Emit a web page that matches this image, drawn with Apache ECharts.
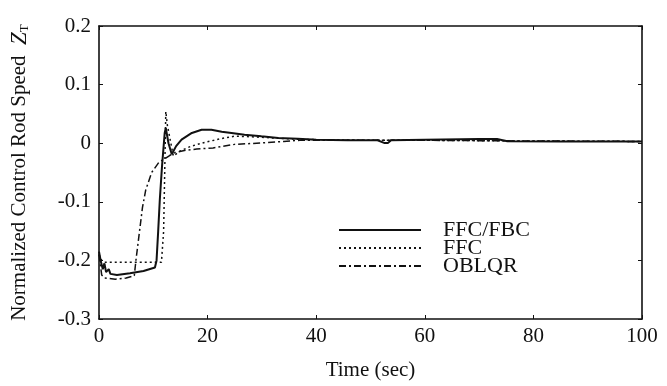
<!DOCTYPE html>
<html>
<head>
<meta charset="utf-8">
<script src="https://cdn.jsdelivr.net/npm/echarts@6/dist/echarts.min.js"></script>
<style>
  html, body { margin: 0; padding: 0; background: #fff; }
  #main { width: 667px; height: 386px; }
</style>
</head>
<body>
<div id="main"></div>
<script>
// values (time in sec, normalized speed)
var xTicks = [0, 20, 40, 60, 80, 100];
var yTicks = [-0.3, -0.2, -0.1, 0, 0.1, 0.2];

var ffcFbcT = [0, 0.3, 0.7, 1, 1.3, 1.8, 2.1, 3.3, 5.7, 8.2, 10.3, 10.6, 10.9, 11.2, 11.6, 12.1, 12.3, 12.8, 13.4, 14.2, 15.2, 17.1, 18.9, 20.7, 22.6, 24.4, 26.8, 29.9, 33, 36.6, 40, 45.8, 51.3, 52.5, 53.2, 53.8, 60, 70, 73.3, 75.2, 85, 100];
var ffcFbcV = [-0.185, -0.2, -0.215, -0.205, -0.22, -0.215, -0.223, -0.225, -0.222, -0.218, -0.212, -0.2, -0.15, -0.096, -0.04, 0.0175, 0.026, 0.0, -0.019, -0.005, 0.006, 0.0175, 0.023, 0.023, 0.0195, 0.0175, 0.0146, 0.0117, 0.009, 0.0078, 0.006, 0.005, 0.005, 0.0005, 0.0005, 0.005, 0.006, 0.007, 0.0073, 0.0032, 0.003, 0.003];

var ffcT = [0, 0.5, 1, 4, 8, 11.5, 11.9, 12.1, 12.3, 12.6, 13.7, 15, 17, 19.5, 22.6, 25, 28, 32, 36, 40, 50, 60, 75, 100];
var ffcV = [-0.19, -0.2, -0.203, -0.203, -0.203, -0.203, -0.15, -0.05, 0.054, 0.03, -0.022, -0.013, -0.005, 0.0015, 0.008, 0.012, 0.011, 0.009, 0.007, 0.006, 0.005, 0.005, 0.004, 0.003];

var oblqrT = [0, 0.5, 1, 3, 5, 6.5, 6.8, 7.2, 8, 8.6, 9.7, 11, 12, 13, 14, 16, 18, 21, 25, 30, 34, 37, 40, 50, 60, 75, 100];
var oblqrV = [-0.19, -0.225, -0.23, -0.232, -0.23, -0.226, -0.2, -0.17, -0.11, -0.08, -0.05, -0.033, -0.027, -0.021, -0.016, -0.012, -0.01, -0.008, -0.002, 0.0005, 0.003, 0.005, 0.005, 0.005, 0.005, 0.004, 0.003];

function pairs(t, v) {
  var out = [];
  for (var i = 0; i < t.length; i++) out.push([t[i], v[i]]);
  return out;
}

var serif = "'Liberation Serif', 'DejaVu Serif', serif";
var ink = "#111";

var chart = echarts.init(document.getElementById("main"));
chart.setOption({
  backgroundColor: "#fff",
  animation: false,
  grid: { left: 96, right: 25, top: 26, bottom: 66 },
  legend: {
    orient: "vertical",
    left: 338,
    top: 219,
    padding: 0,
    itemWidth: 82,
    itemHeight: 12,
    itemGap: -4,
    itemStyle: { opacity: 0 },
    textStyle: { fontFamily: serif, fontSize: 22, color: ink, padding: [0, 0, 0, 17] },
    data: ["FFC/FBC", "FFC", "OBLQR"]
  },
  xAxis: [
    {
      type: "value",
      min: xTicks[0],
      max: xTicks[xTicks.length - 1],
      interval: 20,
      name: "Time (sec)",
      nameLocation: "middle",
      nameGap: 41,
      nameTextStyle: { fontFamily: serif, fontSize: 21, color: ink },
      axisLine: { onZero: false, lineStyle: { color: ink, width: 1.6 } },
      axisTick: { inside: true, length: 4, lineStyle: { color: ink } },
      axisLabel: { fontFamily: serif, fontSize: 21, color: ink, margin: 7 },
      splitLine: { show: false }
    },
    {
      type: "value",
      position: "top",
      min: xTicks[0],
      max: xTicks[xTicks.length - 1],
      interval: 20,
      axisLine: { show: true, onZero: false, lineStyle: { color: ink, width: 1.6 } },
      axisTick: { inside: true, length: 4, lineStyle: { color: ink } },
      axisLabel: { show: false },
      splitLine: { show: false }
    }
  ],
  yAxis: [
    {
      type: "value",
      min: yTicks[0],
      max: yTicks[yTicks.length - 1],
      interval: 0.1,
      name: "Normalized Control Rod Speed  {z|Z}{s|T}",
      nameLocation: "middle",
      nameGap: 68,
      nameTextStyle: {
        fontFamily: serif, fontSize: 21, color: ink,
        rich: {
          z: { fontFamily: serif, fontSize: 23, fontStyle: "italic", color: ink },
          s: { fontFamily: serif, fontSize: 13, color: ink, verticalAlign: "bottom", padding: [9, 0, 0, 0] }
        }
      },
      axisLine: { show: true, onZero: false, lineStyle: { color: ink, width: 1.6 } },
      axisTick: { inside: true, length: 4, lineStyle: { color: ink } },
      axisLabel: {
        fontFamily: serif, fontSize: 21, color: ink, margin: 8,
        formatter: function (v) { return Math.abs(v) < 1e-9 ? "0" : (+v.toFixed(1)).toString(); }
      },
      splitLine: { show: false }
    },
    {
      type: "value",
      position: "right",
      min: yTicks[0],
      max: yTicks[yTicks.length - 1],
      interval: 0.1,
      axisLine: { show: true, onZero: false, lineStyle: { color: ink, width: 1.6 } },
      axisTick: { inside: true, length: 4, lineStyle: { color: ink } },
      axisLabel: { show: false },
      splitLine: { show: false }
    }
  ],
  series: [
    {
      name: "FFC/FBC",
      type: "line",
      data: pairs(ffcFbcT, ffcFbcV),
      symbol: "none",
      color: ink,
      lineStyle: { color: ink, width: 2, type: "solid" }
    },
    {
      name: "FFC",
      type: "line",
      data: pairs(ffcT, ffcV),
      symbol: "none",
      color: ink,
      lineStyle: { color: ink, width: 1.5, type: [2, 3] }
    },
    {
      name: "OBLQR",
      type: "line",
      data: pairs(oblqrT, oblqrV),
      symbol: "none",
      color: ink,
      lineStyle: { color: ink, width: 1.5, type: [7, 3, 2, 3] }
    }
  ]
});
</script>
</body>
</html>
